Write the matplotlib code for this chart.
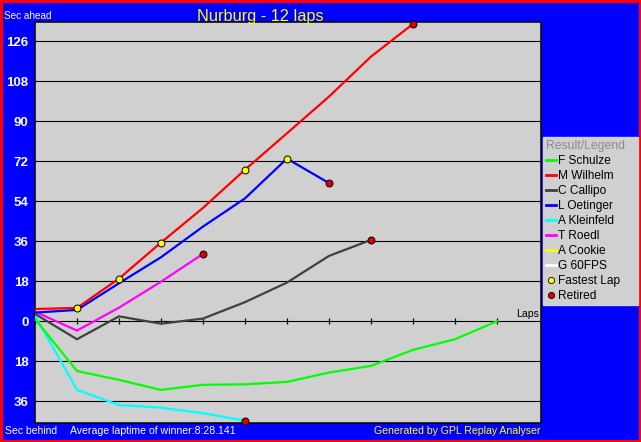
import matplotlib
matplotlib.use("Agg")
import matplotlib.pyplot as plt
from matplotlib.lines import Line2D
from matplotlib.patches import Rectangle

# ---------------- data ----------------
drivers = ["F Schulze", "M Wilhelm", "C Callipo", "L Oetinger",
           "A Kleinfeld", "T Roedl", "A Cookie", "G 60FPS"]
colors = ["#00FF00", "#FF0000", "#404040", "#0000FF",
          "#00FFFF", "#FF00FF", "#FFFF00", "#FFFFFF"]

schulze = [1.0, -22.4, -26.4, -30.9, -28.6, -28.4, -27.3, -23.1, -20.1, -12.9, -8.1, 0.0]
wilhelm = [5.5, 6.0, 19.2, 35.4, 51.0, 68.2, 84.6, 101.1, 119.1, 133.8]
callipo = [3.3, -8.1, 2.2, -1.1, 1.2, 8.6, 17.4, 29.4, 36.6]
oetinger = [3.9, 5.1, 17.1, 28.8, 42.6, 55.3, 73.2, 62.2]
kleinfeld = [2.5, -30.9, -37.7, -38.9, -41.4, -44.7]
roedl = [4.3, -4.2, 6.1, 17.8, 30.3]
cookie = []
g60fps = []
series = [schulze, wilhelm, callipo, oetinger, kleinfeld, roedl, cookie, g60fps]

fastest_driver = ["M Wilhelm", "M Wilhelm", "M Wilhelm", "M Wilhelm", "L Oetinger"]
fastest_lap = [1, 2, 3, 5, 6]
retired = ["M Wilhelm", "L Oetinger", "C Callipo", "T Roedl", "A Kleinfeld"]

yticks = [-36, -18, 0, 18, 36, 54, 72, 90, 108, 126]
ytick_labels = ["36", "18", "0", "18", "36", "54", "72", "90", "108", "126"]
n_laps = 12

title = "Nurburg - 12 laps"
avg_text = "Average laptime of winner:8:28.141"

# ---------------- layout ----------------
W, H = 641, 442
sans = ["Liberation Sans", "DejaVu Sans"]

fig = plt.figure(figsize=(W / 100, H / 100), dpi=100, facecolor="#0000FF")
ax = fig.add_axes([35 / W, (H - 423) / H, (541 - 35) / W, (423 - 22) / H])
ax.set_facecolor("#D0D0D0")
ax.set_xlim(0, 12.05)
ax.set_ylim(-45.8, 134.7)

ax.set_yticks(yticks)
ax.set_yticklabels(ytick_labels)
ax.set_xticks([])
ax.tick_params(axis="y", length=0, pad=4.6, labelcolor="white")
for lab in ax.get_yticklabels():
    lab.set_fontfamily(sans)
    lab.set_fontweight("bold")
    lab.set_fontsize(9.5)
ax.set_axisbelow(True)
ax.grid(axis="y", color="black", lw=0.8)
for sp in ax.spines.values():
    sp.set_color("black")
    sp.set_linewidth(1.1)

# tick marks on the zero line
lap_ticks = list(range(n_laps))
ax.plot(lap_ticks, [0] * len(lap_ticks), ls="none", marker="|", ms=4.5,
        mew=0.9, color="black", zorder=2)

# lines
for name, col, vals in reversed(list(zip(drivers, colors, series))):
    if len(vals) == 0:
        continue
    ax.plot(range(len(vals)), vals, color=col, lw=1.6, zorder=3,
            solid_joinstyle="miter")

# retired markers
for name in retired:
    vals = series[drivers.index(name)]
    ax.plot(len(vals) - 1, vals[-1], ls="none", marker="o", ms=5,
            mfc="#E00000", mec="black", mew=0.7, zorder=5, clip_on=False)

# fastest lap markers
for name, lap in zip(fastest_driver, fastest_lap):
    vals = series[drivers.index(name)]
    ax.plot(lap, vals[lap], ls="none", marker="o", ms=5,
            mfc="#FFFF00", mec="black", mew=0.7, zorder=5, clip_on=False)

ax.annotate("Laps", xy=(1, 0), xycoords=ax.get_yaxis_transform(),
            xytext=(-1.5, 2.8), textcoords="offset points",
            ha="right", va="baseline", fontsize=7.6, family=sans, color="black")

# ---------------- figure texts ----------------
def fx(px):
    return px / W

def fy(py):
    return 1 - py / H

fig.text(fx(260.5), fy(21), title, ha="center", va="baseline",
         color="#FFFF00", fontsize=11.8, family=sans)
fig.text(fx(4), fy(19), "Sec ahead", ha="left", va="baseline",
         color="white", fontsize=7.2, family=sans)
fig.text(fx(5), fy(434), "Sec behind", ha="left", va="baseline",
         color="white", fontsize=7.5, family=sans)
fig.text(fx(70), fy(434), avg_text, ha="left", va="baseline",
         color="white", fontsize=7.6, family=sans)
fig.text(fx(540), fy(434), "Generated by GPL Replay Analyser", ha="right",
         va="baseline", color="#FFFF00", fontsize=7.55, family=sans)

# ---------------- legend ----------------
handles = [Line2D([], [], color=c, lw=2) for c in colors]
handles.append(Line2D([], [], ls="none", marker="o", ms=4.5, mfc="#FFFF00",
                      mec="black", mew=0.6))
handles.append(Line2D([], [], ls="none", marker="o", ms=4.5, mfc="#E00000",
                      mec="black", mew=0.6))
labels = drivers + ["Fastest Lap", "Retired"]

leg = fig.legend(handles, labels, loc="upper left",
                 bbox_to_anchor=(fx(543), fy(303), 95 / W, 166 / H),
                 mode="expand", borderaxespad=0, borderpad=0.25,
                 handlelength=0.85, handletextpad=0.15, labelspacing=0.255,
                 frameon=True, fancybox=False, framealpha=1,
                 facecolor="#D0D0D0", edgecolor="#D0D0D0",
                 prop={"family": sans, "size": 8.6},
                 title="Result/Legend",
                 title_fontproperties={"family": sans, "size": 8.8},
                 alignment="left")
leg.get_title().set_color("#8A8A8A")

# red border around the whole image
fig.add_artist(Rectangle((0, 0), 1, 1, transform=fig.transFigure, fill=False,
                         ec="#FF0000", lw=3.6))

fig.savefig("out.png", dpi=100, facecolor=fig.get_facecolor())
